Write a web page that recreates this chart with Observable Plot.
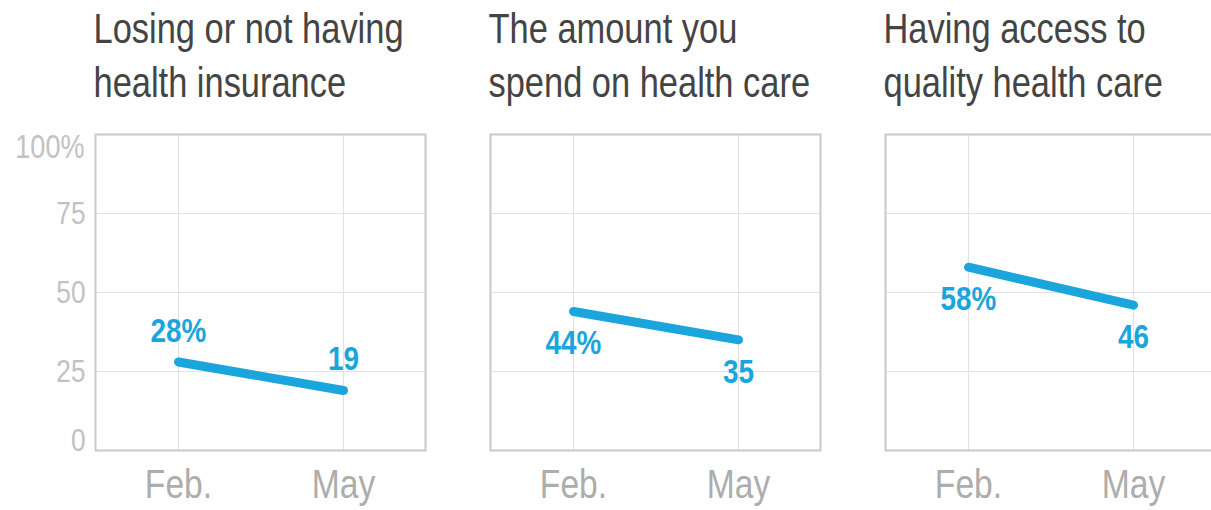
<!DOCTYPE html>
<html>
<head>
<meta charset="utf-8">
<script src="https://cdn.jsdelivr.net/npm/d3@7"></script>
<script src="https://cdn.jsdelivr.net/npm/@observablehq/plot@0.6"></script>
<style>
  html, body { margin: 0; padding: 0; background: #fff; overflow: hidden; width: 1211px; height: 510px; }
  #chart svg { max-width: none !important; display: block; }
</style>
</head>
<body>
<div id="chart"></div>
<script>
const titles = ["Losing or not having\nhealth insurance", "The amount you\nspend on health care", "Having access to\nquality health care"];
const months = ["Feb.", "May"];
const febValues = [28, 44, 58];
const mayValues = [19, 35, 46];
const labelSide = ["above", "below", "below"];
const yTicks = [0, 25, 50, 75, 100];

const blue = "#1aa6dc";
const font = "'Liberation Sans', Arial, Helvetica, sans-serif";
const narrow = 0.82; // horizontal condensing to mimic a narrow Helvetica

const data = [];
titles.forEach((t, i) => {
  data.push({title: t, month: months[0], value: febValues[i], label: febValues[i] + "%", side: labelSide[i]});
  data.push({title: t, month: months[1], value: mayValues[i], label: String(mayValues[i]), side: labelSide[i]});
});

const tickData = yTicks.map(v => ({title: titles[0], v, label: v === 100 ? "100%" : String(v)}));

const chart = Plot.plot({
  width: 1220,
  height: 510,
  marginLeft: 95,
  marginRight: 5,
  marginTop: 134,
  marginBottom: 60,
  style: {fontFamily: font, background: "white", overflow: "visible"},
  fx: {axis: null, domain: titles, paddingInner: 65 / 395, paddingOuter: 0},
  x: {axis: null, domain: months, padding: 0.5},
  y: {axis: null, domain: [0, 100]},
  marks: [
    Plot.gridY([25, 50, 75], {stroke: "#e2e2e2", strokeOpacity: 1, strokeWidth: 1}),
    Plot.gridX(months, {stroke: "#e2e2e2", strokeOpacity: 1, strokeWidth: 1}),
    Plot.frame({stroke: "#c9c9c9", strokeWidth: 2}),
    // titles
    Plot.text(titles, {fx: d => d, text: d => d, frameAnchor: "top-left", textAnchor: "start", lineAnchor: "top", dy: -130, dx: -2, fontSize: 42, lineHeight: 1.29, fill: "#444"}),
    // y tick labels
    Plot.text(tickData.filter(d => d.v > 0 && d.v < 100), {fx: "title", y: "v", text: "label", frameAnchor: "left", textAnchor: "end", lineAnchor: "middle", dx: -10, fontSize: 32, fill: "#c2c2c2"}),
    Plot.text(tickData.filter(d => d.v === 100), {fx: "title", y: "v", text: "label", frameAnchor: "left", textAnchor: "end", lineAnchor: "top", dx: -11, fontSize: 33, fill: "#c2c2c2"}),
    Plot.text(tickData.filter(d => d.v === 0), {fx: "title", y: "v", text: "label", frameAnchor: "left", textAnchor: "end", lineAnchor: "bottom", dx: -10, fontSize: 32, fill: "#c2c2c2"}),
    // x labels
    Plot.text(months, {x: d => d, text: d => d, frameAnchor: "bottom", lineAnchor: "bottom", dy: 47, fontSize: 41, fill: "#adadad"}),
    // lines
    Plot.line(data, {fx: "title", x: "month", y: "value", z: "title", stroke: blue, strokeWidth: 9, strokeLinecap: "round"}),
    // value labels
    Plot.text(data.filter(d => d.side === "above"), {fx: "title", x: "month", y: "value", text: "label", lineAnchor: "middle", dy: -31, fontSize: 34, fontWeight: "bold", fill: blue}),
    Plot.text(data.filter(d => d.side === "below"), {fx: "title", x: "month", y: "value", text: "label", lineAnchor: "middle", dy: 32, fontSize: 34, fontWeight: "bold", fill: blue})
  ]
});
// condense all text horizontally around its anchor
chart.querySelectorAll("text").forEach(t => {
  const tr = t.getAttribute("transform") || "";
  t.setAttribute("transform", tr + ` scale(${narrow},1)`);
});
document.getElementById("chart").appendChild(chart);
</script>
</body>
</html>
